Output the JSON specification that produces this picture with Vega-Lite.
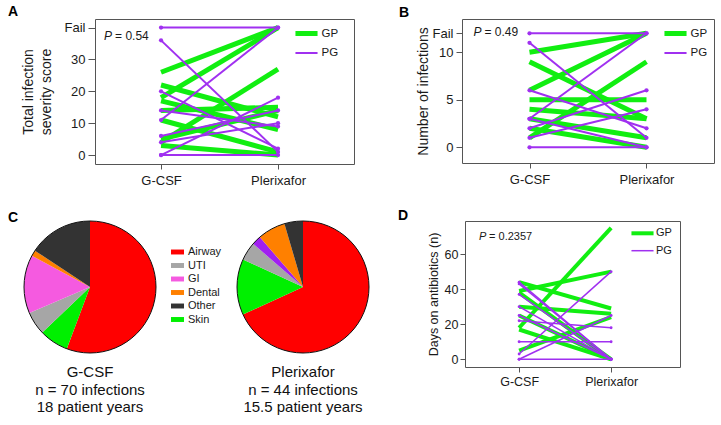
{
  "$schema": "https://vega.github.io/schema/vega-lite/v6.json",
  "padding": {"left": 8, "top": 5, "right": 2, "bottom": 2},
  "background": "white",
  "config": {
    "font": "Liberation Sans",
    "view": {"stroke": "#555", "strokeWidth": 1},
    "axis": {"grid": false, "domain": false, "labelFont": "Liberation Sans", "titleFont": "Liberation Sans", "labelFontSize": 13, "titleFontSize": 14, "titleFontWeight": "normal", "labelColor": "#1a1a1a", "titleColor": "#1a1a1a", "tickColor": "#555"},
    "title": {"font": "Liberation Sans", "fontSize": 14, "fontWeight": "bold", "color": "#000", "anchor": "start"},
    "text": {"font": "Liberation Sans", "color": "#1a1a1a"}
  },
  "datasets": {
    "sev": [
      {"id": "a1", "group": "GP", "treatment": "G-CSF", "value": 26}, {"id": "a1", "group": "GP", "treatment": "Plerixafor", "value": 40},
      {"id": "a2", "group": "GP", "treatment": "G-CSF", "value": 18}, {"id": "a2", "group": "GP", "treatment": "Plerixafor", "value": 40},
      {"id": "a3", "group": "GP", "treatment": "G-CSF", "value": 4}, {"id": "a3", "group": "GP", "treatment": "Plerixafor", "value": 27},
      {"id": "a4", "group": "GP", "treatment": "G-CSF", "value": 22}, {"id": "a4", "group": "GP", "treatment": "Plerixafor", "value": 12},
      {"id": "a5", "group": "GP", "treatment": "G-CSF", "value": 17}, {"id": "a5", "group": "GP", "treatment": "Plerixafor", "value": 8},
      {"id": "a6", "group": "GP", "treatment": "G-CSF", "value": 14}, {"id": "a6", "group": "GP", "treatment": "Plerixafor", "value": 15},
      {"id": "a7", "group": "GP", "treatment": "G-CSF", "value": 11}, {"id": "a7", "group": "GP", "treatment": "Plerixafor", "value": 1},
      {"id": "a8", "group": "GP", "treatment": "G-CSF", "value": 5}, {"id": "a8", "group": "GP", "treatment": "Plerixafor", "value": 14},
      {"id": "a9", "group": "GP", "treatment": "G-CSF", "value": 3}, {"id": "a9", "group": "GP", "treatment": "Plerixafor", "value": 0},
      {"id": "p1", "group": "PG", "treatment": "G-CSF", "value": 40}, {"id": "p1", "group": "PG", "treatment": "Plerixafor", "value": 40},
      {"id": "p2", "group": "PG", "treatment": "G-CSF", "value": 36}, {"id": "p2", "group": "PG", "treatment": "Plerixafor", "value": 1},
      {"id": "p3", "group": "PG", "treatment": "G-CSF", "value": 20}, {"id": "p3", "group": "PG", "treatment": "Plerixafor", "value": 2},
      {"id": "p4", "group": "PG", "treatment": "G-CSF", "value": 14}, {"id": "p4", "group": "PG", "treatment": "Plerixafor", "value": 9},
      {"id": "p5", "group": "PG", "treatment": "G-CSF", "value": 11}, {"id": "p5", "group": "PG", "treatment": "Plerixafor", "value": 40},
      {"id": "p6", "group": "PG", "treatment": "G-CSF", "value": 6}, {"id": "p6", "group": "PG", "treatment": "Plerixafor", "value": 14},
      {"id": "p7", "group": "PG", "treatment": "G-CSF", "value": 4}, {"id": "p7", "group": "PG", "treatment": "Plerixafor", "value": 10},
      {"id": "p8", "group": "PG", "treatment": "G-CSF", "value": 0}, {"id": "p8", "group": "PG", "treatment": "Plerixafor", "value": 18},
      {"id": "p9", "group": "PG", "treatment": "G-CSF", "value": 0}, {"id": "p9", "group": "PG", "treatment": "Plerixafor", "value": 0}
    ],
    "num": [
      {"id": "b1", "group": "GP", "treatment": "G-CSF", "value": 10}, {"id": "b1", "group": "GP", "treatment": "Plerixafor", "value": 12},
      {"id": "b2", "group": "GP", "treatment": "G-CSF", "value": 6}, {"id": "b2", "group": "GP", "treatment": "Plerixafor", "value": 12},
      {"id": "b3", "group": "GP", "treatment": "G-CSF", "value": 9}, {"id": "b3", "group": "GP", "treatment": "Plerixafor", "value": 3},
      {"id": "b4", "group": "GP", "treatment": "G-CSF", "value": 5}, {"id": "b4", "group": "GP", "treatment": "Plerixafor", "value": 5},
      {"id": "b5", "group": "GP", "treatment": "G-CSF", "value": 4}, {"id": "b5", "group": "GP", "treatment": "Plerixafor", "value": 3},
      {"id": "b6", "group": "GP", "treatment": "G-CSF", "value": 1}, {"id": "b6", "group": "GP", "treatment": "Plerixafor", "value": 9},
      {"id": "b7", "group": "GP", "treatment": "G-CSF", "value": 3}, {"id": "b7", "group": "GP", "treatment": "Plerixafor", "value": 1},
      {"id": "b8", "group": "GP", "treatment": "G-CSF", "value": 2}, {"id": "b8", "group": "GP", "treatment": "Plerixafor", "value": 0},
      {"id": "q1", "group": "PG", "treatment": "G-CSF", "value": 12}, {"id": "q1", "group": "PG", "treatment": "Plerixafor", "value": 12},
      {"id": "q2", "group": "PG", "treatment": "G-CSF", "value": 11}, {"id": "q2", "group": "PG", "treatment": "Plerixafor", "value": 1},
      {"id": "q3", "group": "PG", "treatment": "G-CSF", "value": 6}, {"id": "q3", "group": "PG", "treatment": "Plerixafor", "value": 2},
      {"id": "q4", "group": "PG", "treatment": "G-CSF", "value": 3}, {"id": "q4", "group": "PG", "treatment": "Plerixafor", "value": 12},
      {"id": "q5", "group": "PG", "treatment": "G-CSF", "value": 3}, {"id": "q5", "group": "PG", "treatment": "Plerixafor", "value": 0},
      {"id": "q6", "group": "PG", "treatment": "G-CSF", "value": 2}, {"id": "q6", "group": "PG", "treatment": "Plerixafor", "value": 6},
      {"id": "q7", "group": "PG", "treatment": "G-CSF", "value": 1}, {"id": "q7", "group": "PG", "treatment": "Plerixafor", "value": 4},
      {"id": "q8", "group": "PG", "treatment": "G-CSF", "value": 0}, {"id": "q8", "group": "PG", "treatment": "Plerixafor", "value": 0}
    ],
    "days": [
      {"id": "d1", "group": "GP", "treatment": "G-CSF", "value": 44}, {"id": "d1", "group": "GP", "treatment": "Plerixafor", "value": 29},
      {"id": "d2", "group": "GP", "treatment": "G-CSF", "value": 39}, {"id": "d2", "group": "GP", "treatment": "Plerixafor", "value": 50},
      {"id": "d3", "group": "GP", "treatment": "G-CSF", "value": 38}, {"id": "d3", "group": "GP", "treatment": "Plerixafor", "value": 0},
      {"id": "d4", "group": "GP", "treatment": "G-CSF", "value": 30}, {"id": "d4", "group": "GP", "treatment": "Plerixafor", "value": 26},
      {"id": "d5", "group": "GP", "treatment": "G-CSF", "value": 18}, {"id": "d5", "group": "GP", "treatment": "Plerixafor", "value": 75},
      {"id": "d6", "group": "GP", "treatment": "G-CSF", "value": 17}, {"id": "d6", "group": "GP", "treatment": "Plerixafor", "value": 0},
      {"id": "d7", "group": "GP", "treatment": "G-CSF", "value": 5}, {"id": "d7", "group": "GP", "treatment": "Plerixafor", "value": 24},
      {"id": "d8", "group": "GP", "treatment": "G-CSF", "value": 25}, {"id": "d8", "group": "GP", "treatment": "Plerixafor", "value": 0},
      {"id": "r1", "group": "PG", "treatment": "G-CSF", "value": 44}, {"id": "r1", "group": "PG", "treatment": "Plerixafor", "value": 0},
      {"id": "r2", "group": "PG", "treatment": "G-CSF", "value": 43}, {"id": "r2", "group": "PG", "treatment": "Plerixafor", "value": 0},
      {"id": "r3", "group": "PG", "treatment": "G-CSF", "value": 37}, {"id": "r3", "group": "PG", "treatment": "Plerixafor", "value": 0},
      {"id": "r4", "group": "PG", "treatment": "G-CSF", "value": 30}, {"id": "r4", "group": "PG", "treatment": "Plerixafor", "value": 0},
      {"id": "r5", "group": "PG", "treatment": "G-CSF", "value": 25}, {"id": "r5", "group": "PG", "treatment": "Plerixafor", "value": 0},
      {"id": "r6", "group": "PG", "treatment": "G-CSF", "value": 22}, {"id": "r6", "group": "PG", "treatment": "Plerixafor", "value": 18},
      {"id": "r7", "group": "PG", "treatment": "G-CSF", "value": 10}, {"id": "r7", "group": "PG", "treatment": "Plerixafor", "value": 10},
      {"id": "r8", "group": "PG", "treatment": "G-CSF", "value": 3}, {"id": "r8", "group": "PG", "treatment": "Plerixafor", "value": 50},
      {"id": "r9", "group": "PG", "treatment": "G-CSF", "value": 0}, {"id": "r9", "group": "PG", "treatment": "Plerixafor", "value": 25},
      {"id": "r10", "group": "PG", "treatment": "G-CSF", "value": 0}, {"id": "r10", "group": "PG", "treatment": "Plerixafor", "value": 0}
    ],
    "gcsf": [
      {"category": "Airway", "slice": 1, "count": 39},
      {"category": "Skin", "slice": 2, "count": 5},
      {"category": "UTI", "slice": 3, "count": 4},
      {"category": "GI", "slice": 4, "count": 10},
      {"category": "Dental", "slice": 5, "count": 1},
      {"category": "Other", "slice": 6, "count": 11}
    ],
    "plx": [
      {"category": "Airway", "slice": 1, "count": 30},
      {"category": "Skin", "slice": 2, "count": 6},
      {"category": "UTI", "slice": 3, "count": 2},
      {"category": "Unlisted", "slice": 4, "count": 1},
      {"category": "Dental", "slice": 5, "count": 3},
      {"category": "Other", "slice": 6, "count": 2}
    ]
  },
  "resolve": {"scale": {"color": "independent", "strokeWidth": "independent", "theta": "independent"}, "legend": {"color": "independent", "strokeWidth": "independent"}},
  "spacing": 20,
  "vconcat": [
    {
      "spacing": 1,
      "resolve": {"scale": {"color": "independent", "strokeWidth": "independent"}, "legend": {"color": "independent", "strokeWidth": "independent"}},
      "hconcat": [
        {
          "width": 1, "height": 1,
          "view": {"stroke": null},
          "title": {"text": "A", "frame": "group", "offset": -11.3, "baseline": "alphabetic"},
          "data": {"values": []},
          "mark": {"type": "point"}
        },
        {
          "spacing": 43,
          "resolve": {"scale": {"color": "independent", "strokeWidth": "independent"}, "legend": {"color": "independent", "strokeWidth": "independent"}},
          "hconcat": [
            {
              "width": 259, "height": 145,
              "data": {"name": "sev"},
              "encoding": {
                "x": {"field": "treatment", "type": "ordinal", "scale": {"type": "point", "domain": ["G-CSF", "Plerixafor"], "padding": 0.607, "align": 0.465}, "axis": {"title": null, "labelAngle": 0, "tickSize": 5, "labelPadding": 5}},
                "y": {"field": "value", "type": "quantitative", "scale": {"domain": [-2.8, 42.7], "nice": false, "zero": false}, "axis": {"values": [0, 10, 20, 30, 40], "labelExpr": "datum.value == 40 ? 'Fail' : datum.label", "title": ["Total infection", "severity score"], "titleLineHeight": 18, "tickSize": 7, "labelPadding": 3, "minExtent": 30, "maxExtent": 30, "titlePadding": 12}}
              },
              "layer": [
                {
                  "mark": {"type": "line"},
                  "encoding": {
                    "detail": {"field": "id"},
                    "color": {"field": "group", "type": "nominal", "scale": {"domain": ["GP", "PG"], "range": ["#11ee11", "#a030f0"]}, "legend": {"title": null, "orient": "none", "legendX": 202.5, "legendY": 5.5, "symbolType": "M-1.7,0H1.7", "symbolSize": 169, "labelFontSize": 11.5, "rowPadding": 2, "labelOffset": 6, "labelColor": "#1a1a1a"}},
                    "strokeWidth": {"field": "group", "type": "ordinal", "scale": {"domain": ["GP", "PG"], "range": [5, 2]}, "legend": {"title": null, "orient": "none", "legendX": 202.5, "legendY": 5.5, "symbolType": "M-1.7,0H1.7", "symbolSize": 169, "labelFontSize": 11.5, "rowPadding": 2, "labelOffset": 6, "labelColor": "#1a1a1a"}}
                  }
                },
                {
                  "transform": [{"filter": "datum.group == 'PG'"}],
                  "mark": {"type": "circle", "size": 18, "opacity": 1, "color": "#a030f0"}
                },
                {
                  "data": {"values": [{"sym": "P", "stat": "= 0.54", "at": "G-CSF", "level": 37.5}]},
                  "mark": {"type": "text", "fontStyle": "italic", "fontSize": 12, "align": "left", "baseline": "middle", "dx": -57},
                  "encoding": {"x": {"field": "at", "type": "ordinal"}, "y": {"field": "level", "type": "quantitative"}, "text": {"field": "sym"}, "color": {"value": "#1a1a1a"}}
                },
                {
                  "data": {"values": [{"sym": "P", "stat": "= 0.54", "at": "G-CSF", "level": 37.5}]},
                  "mark": {"type": "text", "fontSize": 12, "align": "left", "baseline": "middle", "dx": -46},
                  "encoding": {"x": {"field": "at", "type": "ordinal"}, "y": {"field": "level", "type": "quantitative"}, "text": {"field": "stat"}, "color": {"value": "#1a1a1a"}}
                }
              ]
            },
            {
              "width": 252, "height": 144,
              "title": {"text": "B", "frame": "group", "dx": -63, "offset": -12, "baseline": "alphabetic"},
              "data": {"name": "num"},
              "encoding": {
                "x": {"field": "treatment", "type": "ordinal", "scale": {"type": "point", "domain": ["G-CSF", "Plerixafor"], "padding": 0.577, "align": 0.5}, "axis": {"title": null, "labelAngle": 0, "tickSize": 5, "labelPadding": 5}},
                "y": {"field": "value", "type": "quantitative", "scale": {"domain": [-1.65, 13.5], "nice": false, "zero": false}, "axis": {"values": [0, 5, 10, 12], "labelExpr": "datum.value == 12 ? 'Fail' : datum.label", "title": "Number of infections", "tickSize": 6, "labelPadding": 3, "minExtent": 29, "maxExtent": 29, "titlePadding": 3}}
              },
              "layer": [
                {
                  "mark": {"type": "line"},
                  "encoding": {
                    "detail": {"field": "id"},
                    "color": {"field": "group", "type": "nominal", "scale": {"domain": ["GP", "PG"], "range": ["#11ee11", "#a030f0"]}, "legend": {"title": null, "orient": "none", "legendX": 204.5, "legendY": 5.5, "symbolType": "M-1.7,0H1.7", "symbolSize": 169, "labelFontSize": 11.5, "rowPadding": 2, "labelOffset": 6, "labelColor": "#1a1a1a"}},
                    "strokeWidth": {"field": "group", "type": "ordinal", "scale": {"domain": ["GP", "PG"], "range": [5, 2]}, "legend": {"title": null, "orient": "none", "legendX": 204.5, "legendY": 5.5, "symbolType": "M-1.7,0H1.7", "symbolSize": 169, "labelFontSize": 11.5, "rowPadding": 2, "labelOffset": 6, "labelColor": "#1a1a1a"}}
                  }
                },
                {
                  "transform": [{"filter": "datum.group == 'PG'"}],
                  "mark": {"type": "circle", "size": 18, "opacity": 1, "color": "#a030f0"}
                },
                {
                  "data": {"values": [{"sym": "P", "stat": "= 0.49", "at": "G-CSF", "level": 12.1}]},
                  "mark": {"type": "text", "fontStyle": "italic", "fontSize": 12, "align": "left", "baseline": "middle", "dx": -56},
                  "encoding": {"x": {"field": "at", "type": "ordinal"}, "y": {"field": "level", "type": "quantitative"}, "text": {"field": "sym"}, "color": {"value": "#1a1a1a"}}
                },
                {
                  "data": {"values": [{"sym": "P", "stat": "= 0.49", "at": "G-CSF", "level": 12.1}]},
                  "mark": {"type": "text", "fontSize": 12, "align": "left", "baseline": "middle", "dx": -45},
                  "encoding": {"x": {"field": "at", "type": "ordinal"}, "y": {"field": "level", "type": "quantitative"}, "text": {"field": "stat"}, "color": {"value": "#1a1a1a"}}
                }
              ]
            }
          ]
        }
      ]
    },
    {
      "spacing": 3,
      "resolve": {"scale": {"color": "independent", "strokeWidth": "independent", "theta": "independent"}, "legend": {"color": "independent", "strokeWidth": "independent"}},
      "hconcat": [
        {
          "width": 1, "height": 1,
          "view": {"stroke": null},
          "title": {"text": "C", "frame": "group", "offset": -15, "baseline": "alphabetic"},
          "data": {"values": []},
          "mark": {"type": "point"}
        },
        {
          "spacing": 26,
          "resolve": {"scale": {"color": "independent", "strokeWidth": "independent", "theta": "independent"}, "legend": {"color": "independent", "strokeWidth": "independent"}},
          "hconcat": [
            {
              "spacing": 77,
              "resolve": {"scale": {"color": "shared", "theta": "independent"}, "legend": {"color": "shared"}},
              "hconcat": [
                {
                  "width": 132, "height": 132,
                  "view": {"stroke": null},
                  "title": {"text": ["G-CSF", "n = 70 infections", "18 patient years"], "orient": "bottom", "anchor": "middle", "frame": "group", "fontSize": 15, "fontWeight": "normal", "lineHeight": 17.5, "offset": 10, "baseline": "top", "color": "#111"},
                  "data": {"name": "gcsf"},
                  "layer": [
                    {
                      "mark": {"type": "arc"},
                      "encoding": {
                        "theta": {"field": "count", "type": "quantitative", "stack": true},
                        "order": {"field": "slice", "type": "quantitative"},
                        "color": {"field": "category", "type": "nominal", "scale": {"domain": ["Airway", "UTI", "GI", "Dental", "Other", "Skin", "Unlisted"], "range": ["#ff0000", "#a6a6a6", "#f55ae0", "#ff8000", "#333333", "#00f000", "#a020f0"]}, "legend": {"values": ["Airway", "UTI", "GI", "Dental", "Other", "Skin"], "title": null, "orient": "none", "legendX": 147, "legendY": 24.5, "symbolType": "M-1,-0.38H1V0.38H-1Z", "symbolSize": 169, "symbolStrokeWidth": 0, "labelFontSize": 11, "rowPadding": 1.5, "labelOffset": 4, "labelColor": "#1a1a1a"}}
                      }
                    },
                    {
                      "mark": {"type": "arc", "filled": false, "stroke": "#111", "strokeWidth": 1},
                      "encoding": {"theta": {"aggregate": "sum", "field": "count", "type": "quantitative"}}
                    }
                  ]
                },
                {
                  "width": 132, "height": 132,
                  "view": {"stroke": null},
                  "title": {"text": ["Plerixafor", "n = 44 infections", "15.5 patient years"], "orient": "bottom", "anchor": "middle", "frame": "group", "fontSize": 15, "fontWeight": "normal", "lineHeight": 17.5, "offset": 10, "baseline": "top", "color": "#111"},
                  "data": {"name": "plx"},
                  "layer": [
                    {
                      "mark": {"type": "arc"},
                      "encoding": {
                        "theta": {"field": "count", "type": "quantitative", "stack": true},
                        "order": {"field": "slice", "type": "quantitative"},
                        "color": {"field": "category", "type": "nominal", "scale": {"domain": ["Airway", "UTI", "GI", "Dental", "Other", "Skin", "Unlisted"], "range": ["#ff0000", "#a6a6a6", "#f55ae0", "#ff8000", "#333333", "#00f000", "#a020f0"]}, "legend": {"values": ["Airway", "UTI", "GI", "Dental", "Other", "Skin"], "title": null, "orient": "none", "legendX": 147, "legendY": 24.5, "symbolType": "M-1,-0.38H1V0.38H-1Z", "symbolSize": 169, "symbolStrokeWidth": 0, "labelFontSize": 11, "rowPadding": 1.5, "labelOffset": 4, "labelColor": "#1a1a1a"}}
                      }
                    },
                    {
                      "mark": {"type": "arc", "filled": false, "stroke": "#111", "strokeWidth": 1},
                      "encoding": {"theta": {"aggregate": "sum", "field": "count", "type": "quantitative"}}
                    }
                  ]
                }
              ]
            },
            {
              "width": 215, "height": 146,
              "title": {"text": "D", "frame": "group", "dx": -67, "offset": -14, "baseline": "alphabetic"},
              "data": {"name": "days"},
              "encoding": {
                "x": {"field": "treatment", "type": "ordinal", "scale": {"type": "point", "domain": ["G-CSF", "Plerixafor"], "padding": 0.668, "align": 0.44}, "axis": {"title": null, "labelAngle": 0, "tickSize": 5, "labelPadding": 3, "labelFontSize": 12.5}},
                "y": {"field": "value", "type": "quantitative", "scale": {"domain": [-4.4, 78.9], "nice": false, "zero": false}, "axis": {"values": [0, 20, 40, 60], "title": "Days on antibiotics (n)", "titleFontSize": 12.5, "labelFontSize": 12.5, "tickSize": 5, "labelPadding": 2, "minExtent": 22, "maxExtent": 22, "titlePadding": 2.5}}
              },
              "layer": [
                {
                  "mark": {"type": "line"},
                  "encoding": {
                    "detail": {"field": "id"},
                    "color": {"field": "group", "type": "nominal", "scale": {"domain": ["GP", "PG"], "range": ["#11ee11", "#a030f0"]}, "legend": {"title": null, "orient": "none", "legendX": 169, "legendY": 3.8, "symbolType": "M-1.7,0H1.7", "symbolSize": 169, "labelFontSize": 11, "rowPadding": 1.4, "labelOffset": 5, "labelColor": "#1a1a1a"}},
                    "strokeWidth": {"field": "group", "type": "ordinal", "scale": {"domain": ["GP", "PG"], "range": [4, 1.5]}, "legend": {"title": null, "orient": "none", "legendX": 169, "legendY": 3.8, "symbolType": "M-1.7,0H1.7", "symbolSize": 169, "labelFontSize": 11, "rowPadding": 1.4, "labelOffset": 5, "labelColor": "#1a1a1a"}}
                  }
                },
                {
                  "transform": [{"filter": "datum.group == 'PG'"}],
                  "mark": {"type": "circle", "size": 8, "opacity": 1, "color": "#a030f0"}
                },
                {
                  "data": {"values": [{"sym": "P", "stat": "= 0.2357", "at": "G-CSF", "level": 69.9}]},
                  "mark": {"type": "text", "fontStyle": "italic", "fontSize": 11, "align": "left", "baseline": "middle", "dx": -40},
                  "encoding": {"x": {"field": "at", "type": "ordinal"}, "y": {"field": "level", "type": "quantitative"}, "text": {"field": "sym"}, "color": {"value": "#1a1a1a"}}
                },
                {
                  "data": {"values": [{"sym": "P", "stat": "= 0.2357", "at": "G-CSF", "level": 69.9}]},
                  "mark": {"type": "text", "fontSize": 11, "align": "left", "baseline": "middle", "dx": -30},
                  "encoding": {"x": {"field": "at", "type": "ordinal"}, "y": {"field": "level", "type": "quantitative"}, "text": {"field": "stat"}, "color": {"value": "#1a1a1a"}}
                }
              ]
            }
          ]
        }
      ]
    }
  ]
}
